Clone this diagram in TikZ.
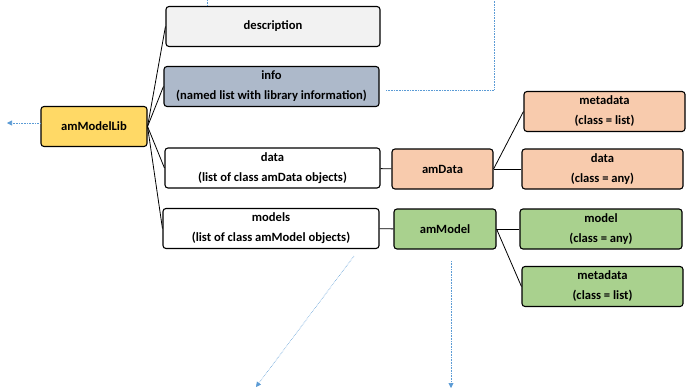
\documentclass[tikz,border=0pt]{standalone}
\usepackage{fontspec}
\setmainfont{Carlito}
\usetikzlibrary{arrows.meta}

\definecolor{libyellow}{HTML}{FFD966}
\definecolor{descgray}{HTML}{F2F2F2}
\definecolor{infoblue}{HTML}{ADB9CA}
\definecolor{datapeach}{HTML}{F8CBAD}
\definecolor{modelgreen}{HTML}{A9D18E}
\definecolor{linkblue}{HTML}{5B9BD5}

\begin{document}
\begin{tikzpicture}[x=1pt, y=-1pt,
  font=\bfseries\fontsize{12.6}{20}\selectfont,
  box/.style={draw, line width=1.1pt, rounded corners=3pt, align=center,
              inner sep=2pt, minimum height=40pt},
  tie/.style={line width=0.8pt},
  link/.style={draw=linkblue, densely dotted, line width=0.6pt,
               -{Triangle[width=5pt,length=5pt]}},
  loose/.style={draw=linkblue, densely dotted, line width=0.6pt}]

\useasboundingbox (0,0) rectangle (687,391);

% the library object and its slots
\node[box, fill=libyellow, minimum width=106pt] (lib) at (94,126.5) {amModelLib};
\node[box, fill=descgray, minimum width=214pt] (desc) at (273,26.5) {description};
\node[box, fill=infoblue, minimum width=215pt] (info) at (271.5,86.5)
     {info\\(named list with library information)};
\node[box, fill=white, minimum width=215pt] (datalist) at (272.5,168)
     {data\\(list of class amData objects)};
\node[box, fill=white, minimum width=216pt] (modellist) at (271,228.5)
     {models\\(list of class amModel objects)};

% amData and its parts
\node[box, fill=datapeach, minimum width=101pt] (amdata) at (442.5,169) {amData};
\node[box, fill=datapeach, minimum width=161pt] (dmeta) at (604.5,111.5)
     {metadata\\(class = list)};
\node[box, fill=datapeach, minimum width=161pt] (ddata) at (602.5,169)
     {data\\(class = any)};

% amModel and its parts
\node[box, fill=modelgreen, minimum width=102pt] (ammodel) at (445,229) {amModel};
\node[box, fill=modelgreen, minimum width=162pt] (mmodel) at (601,229)
     {model\\(class = any)};
\node[box, fill=modelgreen, minimum width=161pt] (mmeta) at (602.5,286.5)
     {metadata\\(class = list)};

\foreach \slot in {desc, info, datalist, modellist}
  \draw[tie] (lib.east) -- (\slot.west);
\draw[tie] (datalist) -- (amdata);
\draw[tie] (modellist) -- (ammodel);
\draw[tie] (amdata.east) -- (dmeta.west);
\draw[tie] (amdata.east) -- (ddata.west);
\draw[tie] (ammodel.east) -- (mmodel.west);
\draw[tie] (ammodel.east) -- (mmeta.west);

% links running off the page
\coordinate (descup) at (207,0);
\coordinate (infoout) at (386,90);
\coordinate (infobend) at (494,90);
\coordinate (infoup) at (494,0);
\coordinate (libout) at (7,123);
\coordinate (listfrom) at (354,256);
\coordinate (listto) at (256,387);
\coordinate (modelfrom) at (451,261);
\coordinate (modelto) at (451,388);

\draw[loose] (descup) -- (descup |- desc.north);
\draw[loose] (infoout) -- (infobend) -- (infoup);
\draw[link] (lib.west |- libout) -- (libout);
\draw[link] (listfrom) -- (listto);
\draw[link] (modelfrom) -- (modelto);
\end{tikzpicture}
\end{document}
